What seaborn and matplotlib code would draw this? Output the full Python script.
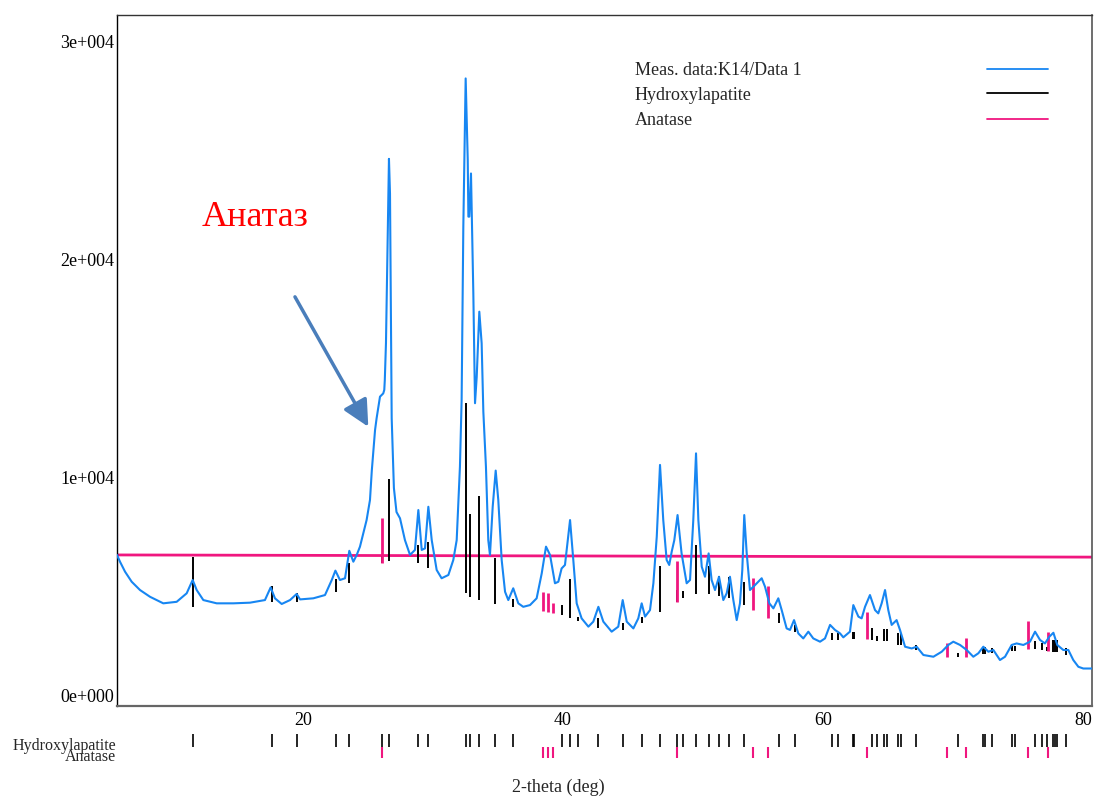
import matplotlib
matplotlib.use("Agg")
import matplotlib.pyplot as plt
import pandas as pd
import seaborn as sns

# Measured diffraction pattern (2-theta in degrees, intensity in counts)
two_theta = [
    5.0, 5.23, 5.62, 6.13, 6.77, 7.54, 8.56, 9.59, 10.36, 10.82, 11.13, 11.64,
    12.67, 13.95, 15.23, 16.38, 16.82, 17.15, 17.67, 18.31, 18.82, 19.08, 20.1,
    21.0, 21.52, 21.8, 22.15, 22.54, 22.87, 23.18, 23.44, 23.69, 24.2, 24.46,
    24.6, 24.85, 24.97, 25.1, 25.23, 25.48, 25.56, 25.6, 25.69, 25.79, 25.92,
    26.0, 26.08, 26.13, 26.3, 26.5, 26.77, 27.15, 27.54, 27.92, 28.18, 28.44,
    28.69, 28.95, 29.21, 29.59, 29.97, 30.49, 30.87, 31.13, 31.38, 31.51, 31.64,
    31.82, 31.98, 32.03, 32.1, 32.23, 32.41, 32.54, 32.67, 32.87, 33.05, 33.18,
    33.38, 33.56, 33.69, 33.9, 34.13, 34.33, 34.59, 34.85, 35.1, 35.48, 35.87,
    36.25, 36.77, 37.28, 37.67, 38.0, 38.31, 38.69, 38.95, 39.2, 39.46, 39.85,
    40.1, 40.36, 40.74, 41.26, 41.64, 42.03, 42.41, 43.05, 43.56, 43.9, 44.21,
    44.72, 45.1, 45.36, 45.62, 46.0, 46.26, 46.52, 46.77, 47.02, 47.28, 47.48,
    47.67, 47.87, 48.12, 48.43, 48.82, 49.08, 49.33, 49.54, 49.72, 49.98, 50.23,
    50.51, 50.74, 51.0, 51.31, 51.64, 51.9, 52.15, 52.41, 52.67, 52.92, 53.1,
    53.25, 53.44, 53.69, 53.95, 54.33, 54.59, 54.85, 55.18, 55.49, 55.87, 56.13,
    56.51, 56.77, 57.08, 57.41, 57.79, 58.18, 58.56, 59.08, 59.46, 59.85, 60.23,
    60.62, 60.87, 61.38, 61.64, 62.03, 62.28, 62.54, 62.92, 63.31, 63.56, 63.82,
    64.08, 64.33, 64.59, 64.97, 65.23, 65.62, 66.13, 66.51, 67.03, 67.8, 68.44,
    68.95, 69.33, 69.85, 70.36, 70.87, 71.26, 71.64, 72.03, 72.41, 72.92, 73.31,
    73.82, 74.2, 74.72, 75.23, 75.62, 76.0, 76.38, 76.72, 77.03, 77.33, 77.79,
    78.18, 78.56, 78.95, 79.33, 79.85, 80.0,
]
intensity = [
    6930, 6620, 6160, 5700, 5320, 5010, 4710, 4780, 5170, 5780, 5320, 4860,
    4710, 4710, 4740, 4860, 5440, 4940, 4680, 4860, 5140, 4890, 4940,
    5090, 5780, 6210, 5780, 5860, 7120, 6620, 6930, 7310, 8530, 9450,
    10800, 12660, 13200, 13700, 14190, 14340, 14500, 14950, 16650, 20460, 25100,
    23500, 17400, 13200, 10000, 8900, 8610, 7610, 6930, 7160, 8990, 7160,
    7230, 9140, 7610, 6240, 5860, 6010, 6700, 7610, 10980, 14040, 21990,
    28790, 25050, 22450, 22450, 24430, 18930, 13890, 15100, 18090, 16640, 13500,
    10980, 7610, 6930, 9140, 10800, 9450, 6700, 5240, 4860, 5400, 4710,
    4550, 4630, 4940, 6080, 7310, 6930, 5630, 5700, 6310, 6470, 8530,
    6700, 4710, 4020, 3640, 3870, 4550, 3870, 3410, 3640, 4860, 3870,
    3560, 4020, 4710, 4100, 4400, 5630, 7770, 11060, 8530, 6700, 6470,
    7080, 7610, 8760, 7000, 5630, 5780, 8530, 11590, 8530, 6390, 5930,
    7000, 5780, 5320, 5930, 4860, 5170, 5930, 4860, 3940, 4710, 6240,
    8760, 7000, 5320, 5470, 5700, 5860, 5470, 4710, 4480, 4940, 4400,
    3560, 3490, 3940, 3330, 3100, 3410, 3100, 2950, 3100, 3720, 3490,
    3330, 3150, 3410, 4630, 4100, 4020, 4550, 5090, 4400, 4250, 4710,
    5320, 4400, 3720, 3940, 3490, 2720, 2640, 2720, 2340, 2260, 2490,
    2800, 2950, 2800, 2570, 2260, 2420, 2720, 2490, 2570, 2110, 2260,
    2800, 2870, 2800, 2950, 3410, 3030, 2870, 3180, 3360, 2800, 2570,
    2570, 2110, 1800, 1720, 1720, 1720,
]

# Hydroxylapatite reflections: position and stick extent inside the pattern
hap_pos = [
    10.85, 16.90, 18.87, 21.82, 22.87, 25.36, 25.92, 28.18, 28.95, 31.82, 32.15,
    32.87, 34.08, 35.48, 39.21, 39.85, 40.48, 42.02, 43.90, 45.36, 46.77, 48.10,
    48.56, 49.54, 50.54, 51.31, 52.10, 53.23, 55.90, 57.15, 59.97, 60.44, 61.59,
    61.72, 63.05, 63.44, 64.02, 64.21, 65.05, 65.31, 66.44, 69.72, 71.64, 71.77,
    72.28, 73.82, 74.08, 75.62, 76.13, 76.51, 77.03, 77.15, 77.28, 78.00,
]
hap_low = [
    4540, 4770, 4770, 5230, 5640, 6560, 6650, 6560, 6330, 5180, 5000,
    4860, 4680, 4540, 4170, 4050, 3900, 3580, 3490, 3800, 4310, 4780,
    4940, 5120, 5140, 5050, 4940, 4630, 3790, 3410, 3030, 3030, 3060,
    3060, 3030, 3000, 2960, 2960, 2800, 2800, 2570, 2260, 2370, 2370,
    2420, 2540, 2540, 2600, 2570, 2540, 2490, 2490, 2490, 2340,
]
hap_high = [
    6830, 5500, 5180, 5830, 6560, 6900, 10400, 7390, 7530, 13900, 8800,
    9630, 6790, 4900, 4630, 5830, 4100, 4040, 3820, 4100, 6420, 5300,
    5290, 7390, 6430, 5960, 5930, 5700, 4250, 3720, 3330, 3330, 3410,
    3410, 3600, 3210, 3520, 3520, 3330, 3330, 2800, 2440, 2690, 2690,
    2640, 2750, 2750, 3000, 2870, 2700, 3030, 3030, 3030, 2670,
]

# Anatase reflections
ana_pos = [25.36, 37.79, 38.18, 38.56, 48.10, 53.95, 55.10, 62.72, 68.82, 70.31, 75.05, 76.59]
ana_low = [6560, 4360, 4300, 4270, 4780, 4400, 4050, 3060, 2260, 2260, 2600, 2540]
ana_high = [8620, 5230, 5180, 4720, 6670, 5880, 5520, 4330, 2900, 3100, 3900, 3410]

# Anatase reference level across the scan
ref_x = [5, 80]
ref_y = [6930, 6830]

x_ticks = [20, 40, 60, 80]
y_ticks = [0, 10000, 20000, 30000]
y_tick_labels = ["0e+000", "1e+004", "2e+004", "3e+004"]
legend_labels = ["Meas. data:K14/Data 1", "Hydroxylapatite", "Anatase"]

BLUE = "#1786f2"
PINK = "#f0167f"
ARROW = "#4a7ebb"

sns.set_style("white")
plt.rcParams["font.family"] = ["Liberation Serif", "DejaVu Serif"]

W, H = 1094, 796
fig = plt.figure(figsize=(W / 100, H / 100), dpi=100)
ax = fig.add_axes([117 / W, 90 / H, 975 / W, 691 / H])

ax.plot(ref_x, ref_y, color=PINK, lw=2, zorder=1)
ax.vlines(hap_pos, hap_low, hap_high, color="black", lw=1.4, zorder=2)
ax.vlines(ana_pos, ana_low, ana_high, color=PINK, lw=2, zorder=3)

df = pd.DataFrame({"two_theta": two_theta, "intensity": intensity})
sns.lineplot(data=df, x="two_theta", y="intensity", ax=ax, color=BLUE, lw=1.5,
             sort=False, estimator=None, zorder=4)

ax.set_xlim(5, 80)
ax.set_ylim(0, 31700)
ax.set_xticks(x_ticks)
ax.set_xticklabels([str(t) for t in x_ticks])
ax.set_yticks(y_ticks)
ax.set_yticklabels(y_tick_labels)
ax.set_xlabel("")
ax.set_ylabel("")
ax.tick_params(axis="both", length=2, width=1, labelsize=13, colors="black")
ax.tick_params(axis="y", pad=0)
ax.tick_params(axis="x", pad=2)
for lab in ax.get_yticklabels():
    lab.set_verticalalignment("bottom")
for lab in ax.get_xticklabels():
    lab.set_horizontalalignment("right")

for side, col, w in [("left", "black", 1.0), ("top", "#333333", 1.0),
                     ("right", "#555555", 1.2), ("bottom", "#666666", 1.6)]:
    ax.spines[side].set_visible(True)
    ax.spines[side].set_color(col)
    ax.spines[side].set_linewidth(w)

# Legend: labels on the left, line samples on the right
legend_colors = [BLUE, "black", PINK]
text_y = [0.919, 0.884, 0.848]
line_y = [0.922, 0.8865, 0.850]
for lab, col, ty, ly in zip(legend_labels, legend_colors, text_y, line_y):
    ax.text(0.531, ty, lab, transform=ax.transAxes, ha="left", va="center", fontsize=13)
    ax.plot([0.892, 0.9546], [ly, ly], transform=ax.transAxes, color=col, lw=1.3)

# Annotation for the anatase shoulder
ax.text(11.52, 22000, "Анатаз", color="red", fontsize=26, ha="left", va="baseline")
ax.annotate("", xy=(24.33, 12810), xytext=(18.69, 18770),
            arrowprops=dict(arrowstyle="-|>,head_length=1.0,head_width=0.5",
                            color=ARROW, lw=2.5, mutation_scale=16,
                            shrinkA=0, shrinkB=0))

# Reflection position rows under the pattern
axr = fig.add_axes([117 / W, (H - 762) / H, 975 / W, 32 / H])
axr.set_xlim(5, 80)
axr.set_ylim(0, 1)
axr.axis("off")
axr.vlines(hap_pos, 0.469, 0.875, color="black", lw=1.2)
axr.vlines(ana_pos, 0.125, 0.469, color=PINK, lw=1.5)
axr.text(-0.001, 0.50, "Hydroxylapatite", transform=axr.transAxes,
         ha="right", va="center", fontsize=11.5)
axr.text(-0.001, 0.17, "Anatase", transform=axr.transAxes,
         ha="right", va="center", fontsize=11.5)

fig.text(558 / W, 1 - 787 / H, "2-theta (deg)", ha="center", va="center", fontsize=13)

fig.savefig("out.png", dpi=100, facecolor="white")
